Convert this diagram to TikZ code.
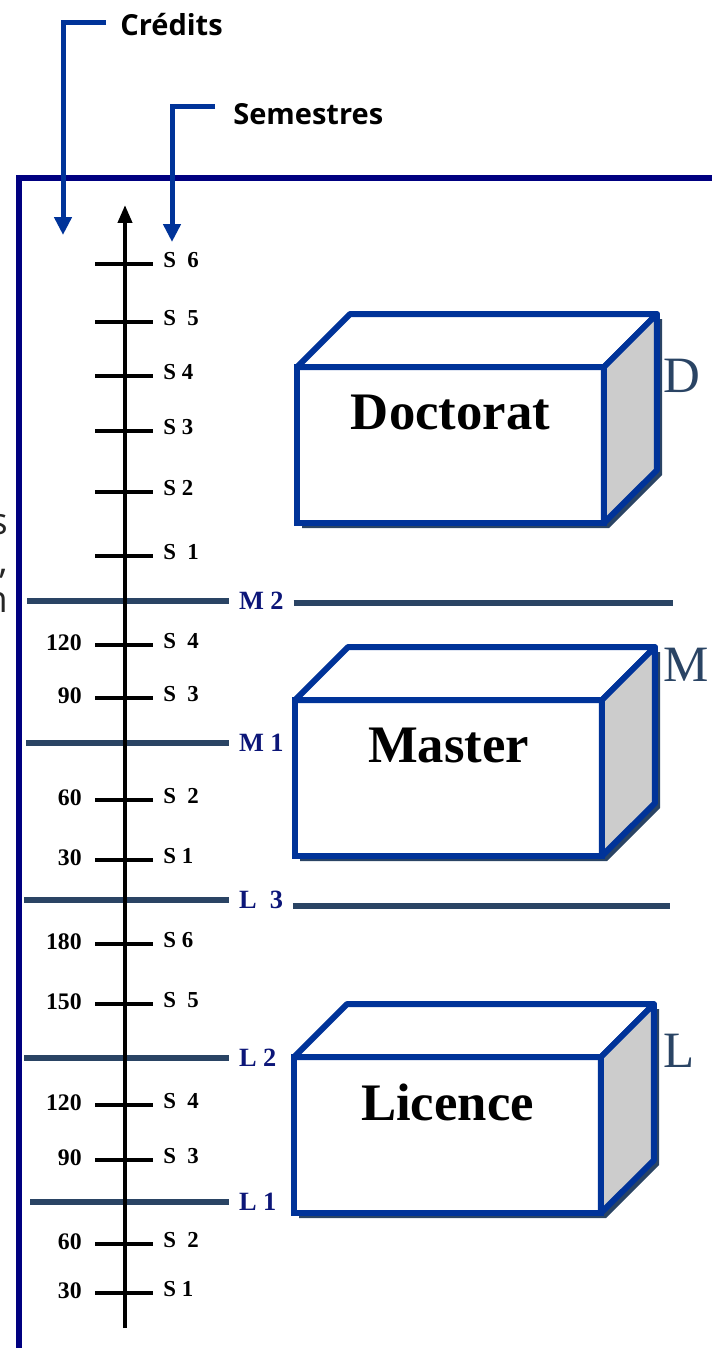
\documentclass[tikz,border=0pt]{standalone}
\usepackage{fontspec}
\setmainfont{Liberation Serif}
\newfontfamily\uisans{Open Sans}
\usepackage{tikz}
\usetikzlibrary{positioning,calc,arrows.meta}
\definecolor{boxblue}{HTML}{003399}
\definecolor{slate}{HTML}{2A4464}
\definecolor{framenavy}{HTML}{000080}
\definecolor{levelnavy}{RGB}{12,22,120}
\definecolor{sidegray}{HTML}{CCCCCC}

\begin{document}
\begin{tikzpicture}[x=0.02cm, y=-0.02cm,
  outerframe/.style={draw=framenavy, line width=0.12cm},
  pointer/.style={draw=boxblue, line width=0.1cm, -{Triangle[length=0.36cm,width=0.34cm]}},
  note/.style={anchor=west, inner sep=0pt, font=\uisans\bfseries\fontsize{16.5}{20}\selectfont},
  clipped/.style={anchor=east, inner sep=0pt, text=black!85, font=\uisans\fontsize{21}{24}\selectfont},
  vaxis/.style={line width=0.08cm, -{Triangle[length=0.36cm,width=0.28cm]}},
  tickmark/.style={line width=0.08cm},
  semlab/.style={anchor=west, inner sep=0pt, font=\bfseries\fontsize{13}{15}\selectfont},
  credlab/.style={anchor=east, inner sep=0pt, font=\bfseries\fontsize{13.5}{15}\selectfont},
  divider/.style={draw=slate, line width=0.11cm},
  lvlmark/.style={anchor=west, inner xsep=0.2cm, inner ysep=0pt, outer sep=0pt, text=levelnavy, font=\bfseries\fontsize{15}{17}\selectfont},
  front/.style={draw=boxblue, fill=white, line width=0.12cm, minimum width=6.14cm, minimum height=3.12cm, inner sep=0pt, outer sep=0pt},
  face/.style={draw=boxblue, line width=0.12cm, line join=round},
  boxshadow/.style={fill=slate},
  boxname/.style={font=\bfseries\fontsize{30}{34}\selectfont},
  grade/.style={anchor=west, inner sep=0pt, text=slate, font=\fontsize{29}{32}\selectfont},
]
\useasboundingbox (0,0) rectangle (711,1348);

% cadre
\coordinate (fr1) at (716,178);
\coordinate (fr2) at (19,178);
\coordinate (fr3) at (19,1354);
\draw[outerframe] (fr1) -- (fr2) -- (fr3);

% bouts de texte coupes a gauche
\node[clipped] (frag1) at (8,525) {s};
\node[clipped] (frag2) at (8,574) {,};
\node[clipped] (frag3) at (8,602) {n};

% legendes en haut
\node[note] (cred) at (120,25) {Crédits};
\node[note] (sem) at (233,114) {Semestres};
\coordinate (credtip) at (63,235);
\coordinate (semtip) at (172,242);
\draw[pointer] ([xshift=-0.28cm, yshift=0.04cm]cred.west) -| (credtip);
\draw[pointer] ([xshift=-0.36cm, yshift=0.14cm]sem.west) -| (semtip);

% paliers
\foreach \nm/\txt/\xa/\yy in {m2/M 2/27/601, m1/M 1/26/743, l3/L\enspace 3/24/900, l2/L 2/24/1058, l1/L 1/30/1202}{
  \coordinate (\nm a) at (\xa,\yy);
  \node[lvlmark] (\nm) at (229,\yy) {\txt};
  \draw[divider] (\nm a) -- (\nm.west);
}
\coordinate (m2b) at (673,603);
\coordinate (l3b) at (670,906);
\draw[divider] (m2.east |- m2b) -- (m2b);
\draw[divider] (l3.east |- l3b) -- (l3b);

% graduations doctorat
\foreach \yy/\ss in {264/S\enspace 6, 322/S\enspace 5, 376/S 4, 431/S 3, 492/S 2, 556/S\enspace 1}{
  \draw[tickmark] (95,\yy) -- (153,\yy);
  \node[semlab] (s\yy) at (163,\yy-4) {\ss};
}
% graduations master et licence
\foreach \yy/\ss/\cc in {645/S\enspace 4/120, 698/S\enspace 3/90, 800/S\enspace 2/60, 860/S 1/30,
  944/S 6/180, 1004/S\enspace 5/150, 1105/S\enspace 4/120, 1160/S\enspace 3/90, 1244/S\enspace 2/60, 1293/S 1/30}{
  \draw[tickmark] (95,\yy) -- (153,\yy);
  \node[semlab] (s\yy) at (163,\yy-4) {\ss};
  \node[credlab] (c\yy) at (82,\yy-2) {\cc};
}

% axe
\coordinate (axbot) at (125,1328);
\coordinate (axtop) at (125,205);
\draw[vaxis] (axbot) -- (axtop);

% blocs
\foreach \nm/\xa/\ya/\txt/\lt/\ly in {doc/297/367/Doctorat/D/376, mas/295/700/Master/M/665, lic/294/1057/Licence/L/1051}{
  \fill[boxshadow] (\xa+5,\ya+161) -- (\xa+5,\ya+5) -- (\xa+58,\ya-48) -- (\xa+365,\ya-48) -- (\xa+365,\ya+108) -- (\xa+312,\ya+161) -- cycle;
  \node[front] (\nm) at (\xa+153.5,\ya+78) {};
  \draw[face, fill=white] (\nm.north west) -- ++(53,-53) -- ++(307,0) -- (\nm.north east) -- cycle;
  \draw[face, fill=sidegray] (\nm.north east) -- ++(53,-53) -- ++(0,156) -- (\nm.south east) -- cycle;
  \node[boxname] (\nm t) at ([yshift=-0.9cm]\nm.north) {\txt};
  \node[grade] (\nm g) at (663,\ly) {\lt};
}
\end{tikzpicture}
\end{document}
